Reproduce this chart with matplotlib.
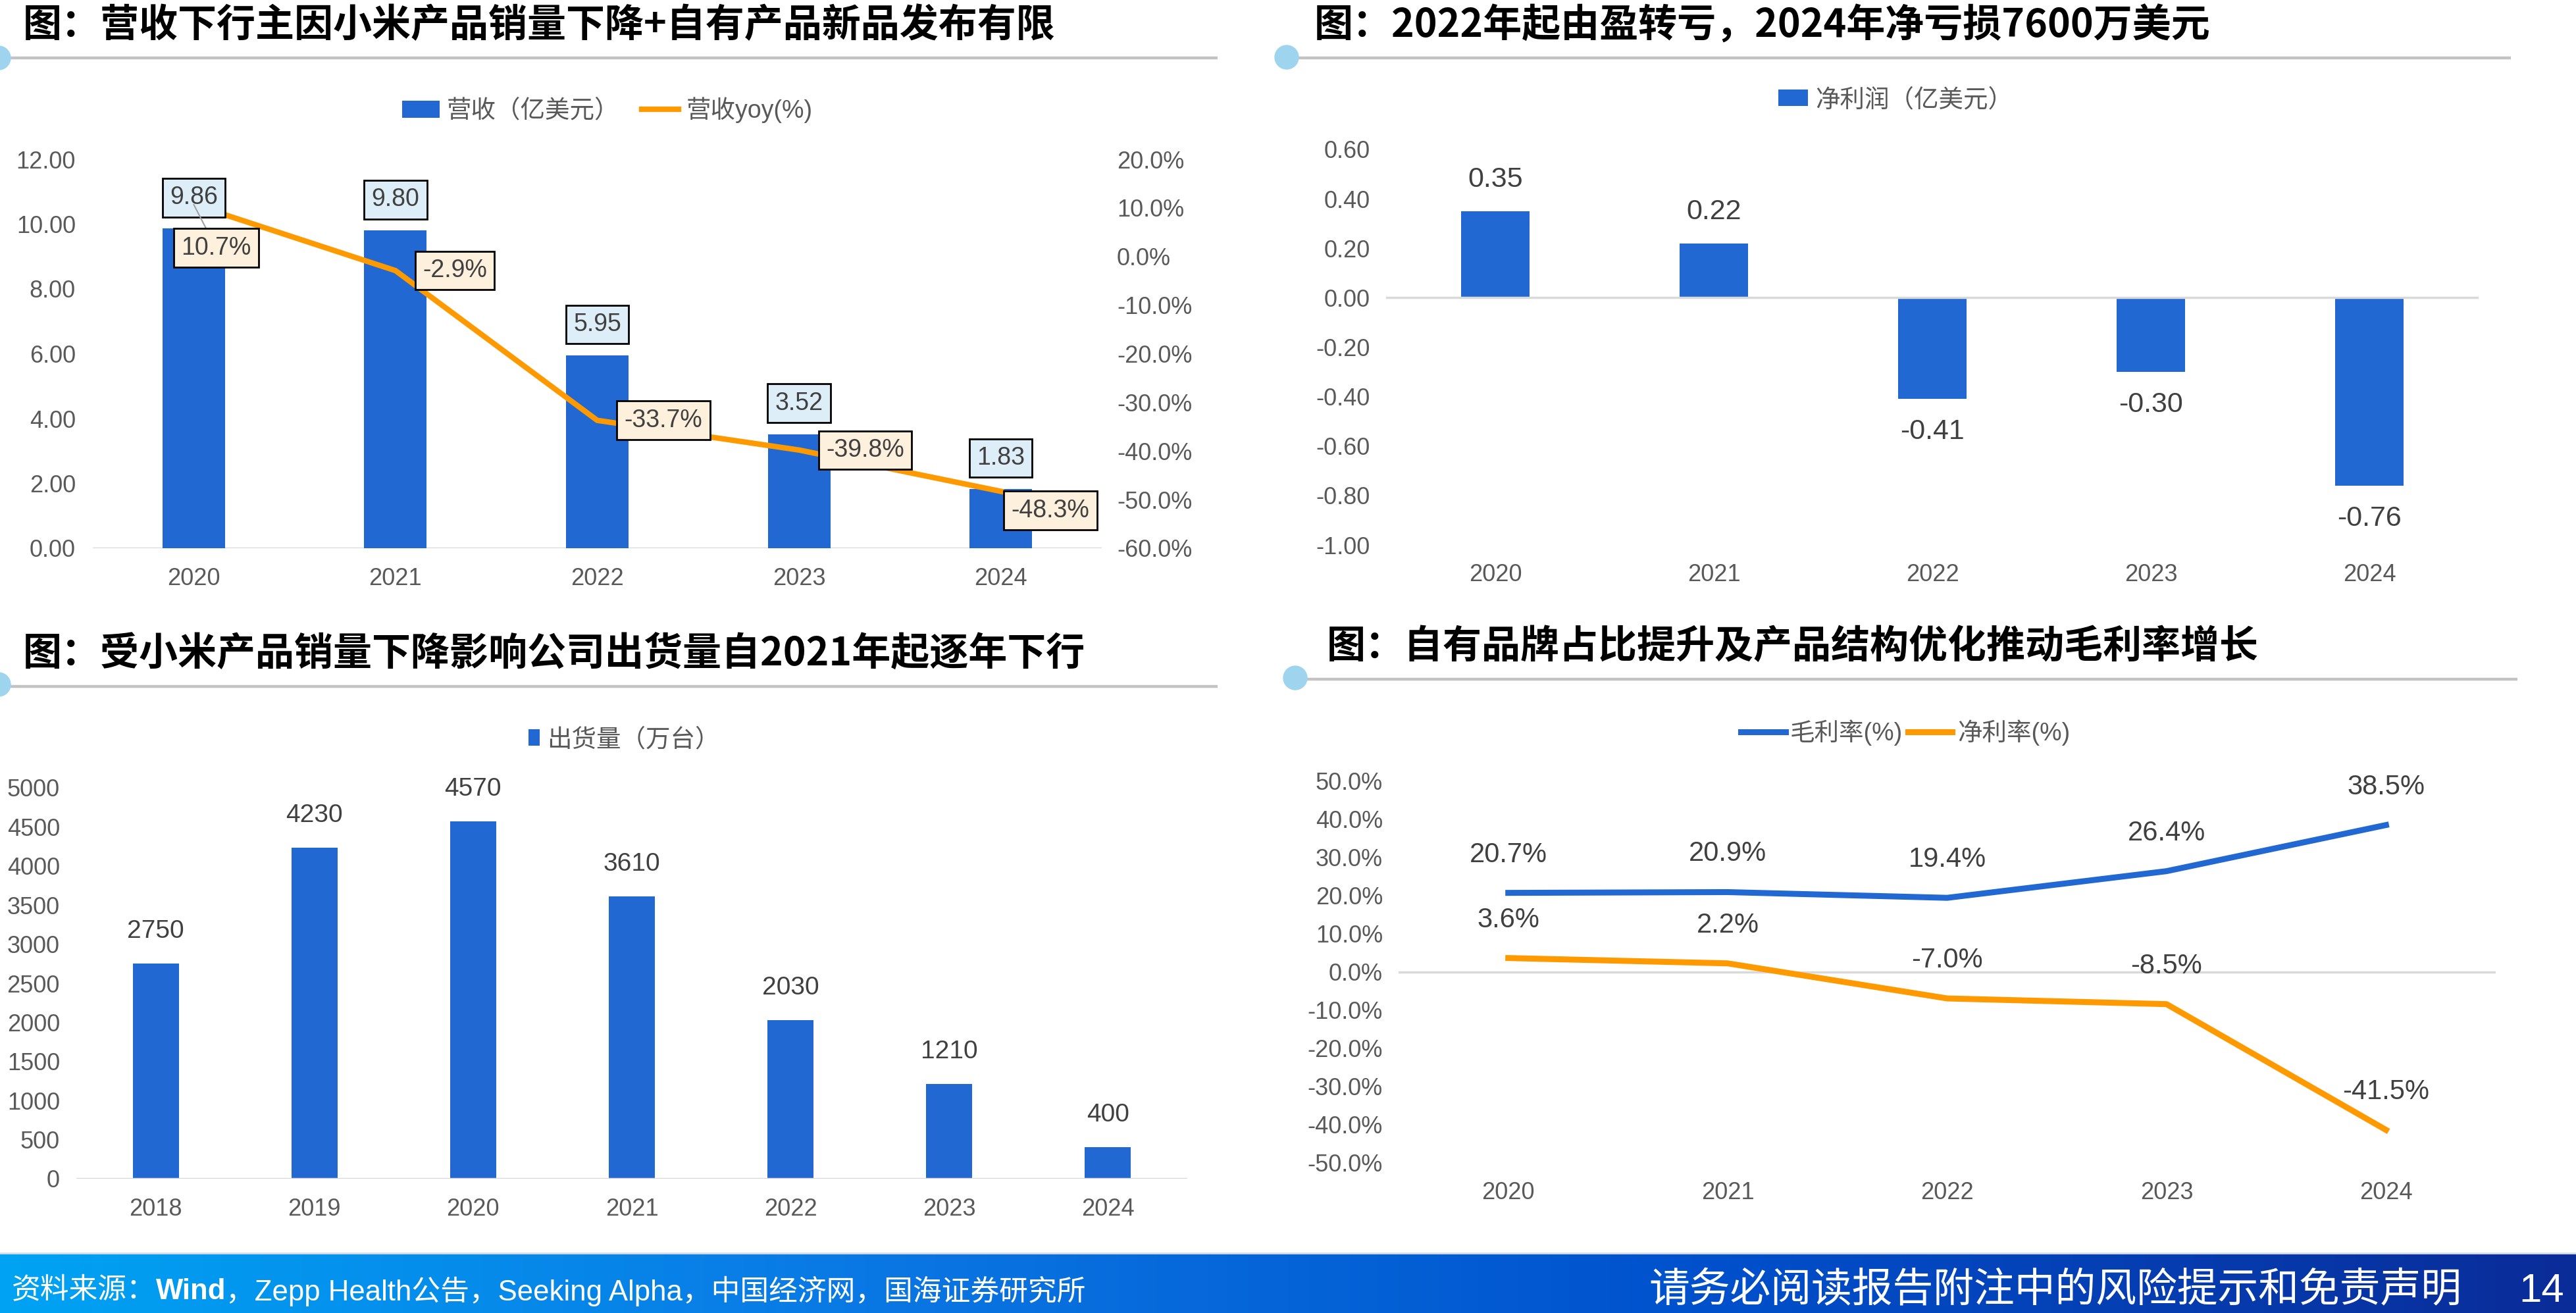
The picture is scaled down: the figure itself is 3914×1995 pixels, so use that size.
import matplotlib
matplotlib.use("Agg")
import matplotlib.pyplot as plt
import numpy as np
from matplotlib.colors import LinearSegmentedColormap
from matplotlib.lines import Line2D
from matplotlib.patches import Ellipse
from matplotlib.ticker import FuncFormatter, MultipleLocator

plt.rcParams["font.family"] = ["Liberation Sans", "Noto Sans CJK SC", "DejaVu Sans"]

W, H = 3914, 1995
DPI = 100

BLUE = "#2168d2"
ORANGE = "#ff9900"
TICK = "#595959"
LABEL = "#404040"
BASE = "#d9d9d9"

# ---- data
years_a = ["2020", "2021", "2022", "2023", "2024"]
revenue = [9.86, 9.80, 5.95, 3.52, 1.83]          # 亿美元
revenue_yoy = [10.7, -2.9, -33.7, -39.8, -48.3]   # %
net_profit = [0.35, 0.22, -0.41, -0.30, -0.76]    # 亿美元
years_b = ["2018", "2019", "2020", "2021", "2022", "2023", "2024"]
shipments = [2750, 4230, 4570, 3610, 2030, 1210, 400]   # 万台
gross_margin = [20.7, 20.9, 19.4, 26.4, 38.5]
net_margin = [3.6, 2.2, -7.0, -8.5, -41.5]

titles = [
    "图：营收下行主因小米产品销量下降+自有产品新品发布有限",
    "图：2022年起由盈转亏，2024年净亏损7600万美元",
    "图：受小米产品销量下降影响公司出货量自2021年起逐年下行",
    "图：自有品牌占比提升及产品结构优化推动毛利率增长",
]


def px2pt(v):
    return v * 72 / DPI


def frac(x, y):
    return x / W, 1 - y / H


def axbox(l, t, r, b):
    return [l / W, 1 - b / H, (r - l) / W, (b - t) / H]


def style(ax, n, ypad, xpad=21):
    for s in ax.spines.values():
        s.set_visible(False)
    ax.set_xlim(-0.5, n - 0.5)
    ax.tick_params(axis="both", length=0, labelsize=26, labelcolor=TICK)
    ax.tick_params(axis="y", pad=ypad)
    ax.tick_params(axis="x", pad=xpad)


def header(fig, title, tx, ty, x0, x1, ly, cx, cy):
    fig.add_artist(Line2D([x0 / W, x1 / W], [1 - ly / H] * 2,
                          color="#c3c3c3", lw=3.2, solid_capstyle="butt"))
    r = 18
    fig.add_artist(Ellipse(frac(cx, cy), 2 * r / W, 2 * r / H,
                           color="#9fd4ef", zorder=5))
    fig.text(tx / W, 1 - ty / H, title, fontsize=42.5, fontweight="bold",
             family=["Noto Sans CJK SC"], color="black", ha="left", va="center")


def legend(ax, handles, labels, cx, cy, **kw):
    opts = dict(loc="center", bbox_to_anchor=frac(cx, cy),
                bbox_transform=ax.figure.transFigure, ncol=len(handles),
                frameon=False, fontsize=27, labelcolor=TICK,
                handletextpad=0.3, columnspacing=0.9, borderpad=0)
    opts.update(kw)
    ax.legend(handles, labels, **opts)


fig = plt.figure(figsize=(W / DPI, H / DPI), dpi=DPI)

# ---------------- top-left: revenue + yoy
header(fig, titles[0], 35, 39, 0, 1850, 88, -2, 88)
ax = fig.add_axes(axbox(141, 242, 1674, 833))
x = np.arange(len(years_a))
bars = ax.bar(x, revenue, width=0.31, color=BLUE, zorder=2)
ax.set_ylim(0, 12)
ax.yaxis.set_major_locator(MultipleLocator(2))
ax.yaxis.set_major_formatter(FuncFormatter(lambda v, p: f"{v:.2f}"))
ax.set_xticks(x, years_a)
style(ax, len(years_a), px2pt(26))
ax.axhline(0, color=BASE, lw=2.5, zorder=1)

ax2 = ax.twinx()
ax2.set_ylim(-60, 20)
ax2.yaxis.set_major_locator(MultipleLocator(10))
ax2.yaxis.set_major_formatter(FuncFormatter(lambda v, p: f"{v:.1f}%"))
for s in ax2.spines.values():
    s.set_visible(False)
ax2.tick_params(axis="y", length=0, labelsize=26, labelcolor=TICK, pad=px2pt(23))
line, = ax2.plot(x, revenue_yoy, color=ORANGE, lw=6, zorder=3)

for xi, v in zip(x, revenue):
    ax2.annotate(f"{v:.2f}", xy=(xi, v / 12 * 80 - 60), xytext=(0, px2pt(47)),
                 textcoords="offset points", ha="center", va="center",
                 fontsize=27, color=LABEL, zorder=6,
                 bbox=dict(boxstyle="square,pad=0.3", fc="#ddeef8", ec="black", lw=2))

yoy_offsets = [(-19, -48, "top"), (41, 0, "center"), (41, 0, "center"),
               (41, 0, "center"), (16, -11, "top")]
for xi, v, (dx, dy, va) in zip(x, revenue_yoy, yoy_offsets):
    arrow = None
    if xi == 0:
        arrow = dict(arrowstyle="-", color="#a0a0a0", lw=1.5, shrinkA=0, shrinkB=0)
    ax2.annotate(f"{v:.1f}%", xy=(xi, v), xytext=(px2pt(dx), px2pt(dy)),
                 textcoords="offset points", ha="left", va=va,
                 fontsize=27, color=LABEL, zorder=7, arrowprops=arrow,
                 bbox=dict(boxstyle="square,pad=0.3", fc="#fdf0dc", ec="black", lw=2))
legend(ax2, [bars, line], ["营收（亿美元）", "营收yoy(%)"], 923, 167,
       handlelength=1.5, handleheight=0.7)

# ---------------- top-right: net profit
header(fig, titles[1], 1997, 40, 1955, 3815, 88, 1955, 87)
ax = fig.add_axes(axbox(2106, 227, 3766, 828))
bars = ax.bar(x, net_profit, width=0.315, color=BLUE, zorder=2)
ax.set_ylim(-1.0, 0.6)
ax.yaxis.set_major_locator(MultipleLocator(0.2))
ax.yaxis.set_major_formatter(FuncFormatter(lambda v, p: f"{v:.2f}"))
ax.set_xticks(x, years_a)
style(ax, len(years_a), px2pt(24), xpad=20)
ax.axhline(0, color=BASE, lw=2.5, zorder=3)
for xi, v in zip(x, net_profit):
    off = px2pt(48) if v >= 0 else -px2pt(50)
    ax.annotate(f"{v:.2f}", xy=(xi, v), xytext=(0, off), textcoords="offset points",
                ha="center", va="center", fontsize=31, color=LABEL)
legend(ax, [bars], ["净利润（亿美元）"], 2880, 152,
       handlelength=1.2, handleheight=0.65)

# ---------------- bottom-left: shipments
header(fig, titles[2], 35, 995, 0, 1850, 1043, -2, 1040)
ax = fig.add_axes(axbox(116, 1197, 1804, 1791))
xb = np.arange(len(years_b))
bars = ax.bar(xb, shipments, width=0.29, color=BLUE, zorder=2)
ax.set_ylim(0, 5000)
ax.yaxis.set_major_locator(MultipleLocator(500))
ax.yaxis.set_major_formatter(FuncFormatter(lambda v, p: f"{v:.0f}"))
ax.set_xticks(xb, years_b)
style(ax, len(years_b), px2pt(25))
ax.axhline(0, color=BASE, lw=2.5, zorder=3)
for xi, v in zip(xb, shipments):
    ax.annotate(f"{v}", xy=(xi, v), xytext=(0, px2pt(49)), textcoords="offset points",
                ha="center", va="center", fontsize=28, color=LABEL)
legend(ax, [bars], ["出货量（万台）"], 948, 1124,
       handlelength=0.45, handleheight=0.65)

# ---------------- bottom-right: margins
header(fig, titles[3], 2016, 983, 1968, 3825, 1032, 1968, 1030)
ax = fig.add_axes(axbox(2125, 1187, 3792, 1766))
l1, = ax.plot(x, gross_margin, color=BLUE, lw=6.5, zorder=3)
l2, = ax.plot(x, net_margin, color=ORANGE, lw=6.5, zorder=3)
ax.set_ylim(-50, 50)
ax.yaxis.set_major_locator(MultipleLocator(10))
ax.yaxis.set_major_formatter(FuncFormatter(lambda v, p: f"{v:.1f}%"))
ax.set_xticks(x, years_a)
style(ax, len(years_a), px2pt(24))
ax.axhline(0, color=BASE, lw=2.5, zorder=2)
for series in (gross_margin, net_margin):
    for xi, v in zip(x, series):
        ax.annotate(f"{v:.1f}%", xy=(xi, v), xytext=(0, px2pt(58)),
                    textcoords="offset points", ha="center", va="center",
                    fontsize=30, color=LABEL, zorder=4)
legend(ax, [l1, l2], ["毛利率(%)", "净利率(%)"], 2895, 1113,
       handlelength=1.8, handletextpad=0.2, columnspacing=0.2)

# ---------------- bottom banner
bax = fig.add_axes(axbox(0, 1905, W, H))
cmap = LinearSegmentedColormap.from_list(
    "banner", ["#00a3f3", "#0a78e4", "#0050cc", "#0a2c98"])
bax.imshow(np.linspace(0, 1, 512)[None, :], cmap=cmap, aspect="auto",
           extent=(0, 1, 0, 1))
bax.set_axis_off()
fig.add_artist(Line2D([0, 1], [1 - 1904 / H] * 2, color="#d6dde8", lw=2))

renderer = fig.canvas.get_renderer()
ty = 1 - 1962 / H
xpos = 18 / W
for part, weight in [("资料来源：", "normal"), ("Wind", "bold"),
                     ("，Zepp Health公告，Seeking Alpha，中国经济网，国海证券研究所", "normal")]:
    t = fig.text(xpos, ty, part, fontsize=31.5, color="white", fontweight=weight,
                 ha="left", va="center")
    xpos += t.get_window_extent(renderer).width / W
fig.text(3740 / W, ty, "请务必阅读报告附注中的风险提示和免责声明", fontsize=44.5,
         color="white", ha="right", va="center")
fig.text(3862 / W, ty, "14", fontsize=44.5, color="white", ha="center", va="center")

fig.savefig("out.png", dpi=DPI)
